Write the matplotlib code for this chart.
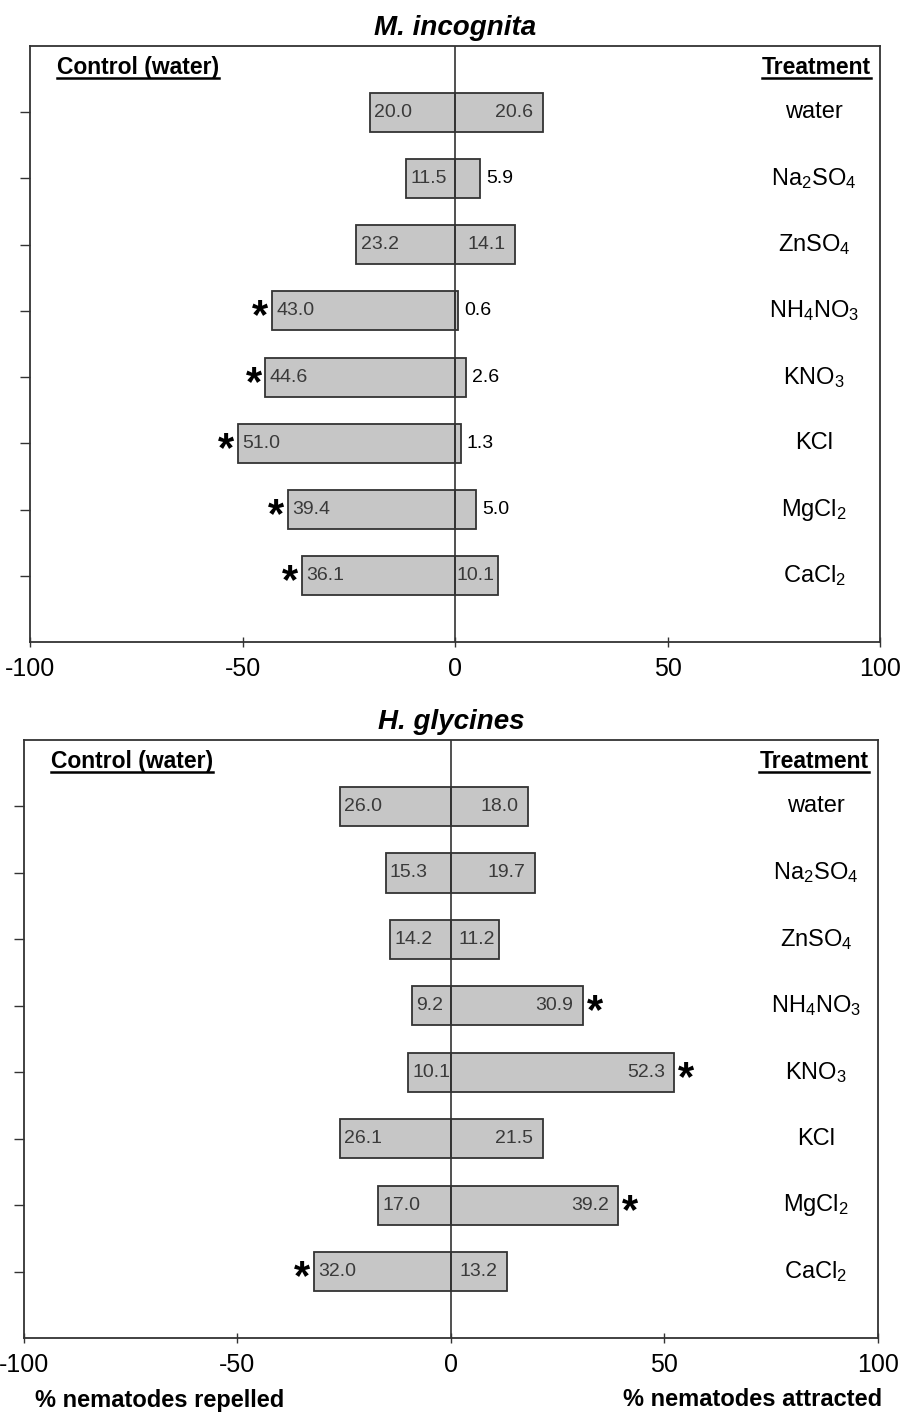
import matplotlib
matplotlib.use("Agg")
import matplotlib.pyplot as plt
from matplotlib.lines import Line2D

# ============= Data =============

treatments = ["water", "Na$_2$SO$_4$", "ZnSO$_4$", "NH$_4$NO$_3$",
              "KNO$_3$", "KCl", "MgCl$_2$", "CaCl$_2$"]

mi_control = [20.0, 11.5, 23.2, 43.0, 44.6, 51.0, 39.4, 36.1]
mi_treat = [20.6, 5.9, 14.1, 0.6, 2.6, 1.3, 5.0, 10.1]
mi_sig_control = [False, False, False, True, True, True, True, True]
mi_sig_treat = [False] * 8

hg_control = [26.0, 15.3, 14.2, 9.2, 10.1, 26.1, 17.0, 32.0]
hg_treat = [18.0, 19.7, 11.2, 30.9, 52.3, 21.5, 39.2, 13.2]
hg_sig_control = [False, False, False, False, False, False, False, True]
hg_sig_treat = [False, False, False, True, True, False, True, False]

x_ticks = [-100, -50, 0, 50, 100]

# ============= Style =============

plt.rcParams["font.family"] = ["Liberation Sans", "DejaVu Sans"]
plt.rcParams["mathtext.fontset"] = "custom"
plt.rcParams["mathtext.rm"] = "Liberation Sans"
plt.rcParams["mathtext.it"] = "Liberation Sans:italic"
plt.rcParams["mathtext.bf"] = "Liberation Sans:bold"

BAR_FACE = "#c6c6c6"
EDGE = "#333333"

fig = plt.figure(figsize=(9.01, 14.12), dpi=100)
ax_top = fig.add_axes([0.0333, 0.5453, 0.9434, 0.4221])
ax_bot = fig.add_axes([0.0266, 0.0524, 0.9478, 0.4235])

underlined = []


def draw_panel(ax, title, control, treat, sig_c, sig_t, lab_x):
    rows = list(range(1, len(treatments) + 1))
    neg = [-v for v in control]
    ax.barh(rows, neg, height=0.59, color=BAR_FACE, edgecolor=EDGE, linewidth=1.3, zorder=2)
    ax.barh(rows, treat, height=0.59, color=BAR_FACE, edgecolor=EDGE, linewidth=1.3, zorder=2)
    ax.axvline(0, color=EDGE, linewidth=1.2, zorder=3)

    for y, c, t, sc, st, name in zip(rows, control, treat, sig_c, sig_t, treatments):
        ax.text(-c + 1.0, y, f"{c:.1f}", ha="left", va="center",
                fontsize=14, color="#3a3a3a", zorder=4)
        if t >= 8:
            pad = 2.2 if t > 13 else 0.9
            ax.text(t - pad, y, f"{t:.1f}", ha="right", va="center",
                    fontsize=14, color="#3a3a3a", zorder=4)
        else:
            ax.text(t + 1.5, y, f"{t:.1f}", ha="left", va="center",
                    fontsize=14, color="black", zorder=4)
        if sc:
            ax.text(-c - 2.8, y + 0.1, "*", ha="center", va="center",
                    fontsize=30, fontweight="bold", color="black")
        if st:
            ax.text(t + 2.8, y + 0.1, "*", ha="center", va="center",
                    fontsize=30, fontweight="bold", color="black")
        ax.text(lab_x, y, name, ha="center", va="center", fontsize=17, color="black")

    t1 = ax.text(-93.6, 0.32, "Control (water)", ha="left", va="center",
                 fontsize=16.5, fontweight="bold")
    t2 = ax.text(97.8, 0.32, "Treatment", ha="right", va="center",
                 fontsize=16.5, fontweight="bold")
    underlined.extend([t1, t2])

    ax.set_xlim(-100, 100)
    ax.set_ylim(9, 0)
    ax.set_xticks(x_ticks)
    ax.set_xticklabels([str(v) for v in x_ticks])
    ax.set_yticks(rows)
    ax.set_yticklabels([])
    ax.tick_params(axis="y", direction="out", length=7, width=1, color=EDGE)
    ax.tick_params(axis="x", direction="inout", length=7, width=1, color=EDGE,
                   labelsize=18, pad=7)
    for s in ax.spines.values():
        s.set_color(EDGE)
        s.set_linewidth(1.3)
    ax.set_title(title, fontsize=20, fontweight="bold", fontstyle="italic", pad=8)


draw_panel(ax_top, "M. incognita", mi_control, mi_treat, mi_sig_control, mi_sig_treat, 84.5)
draw_panel(ax_bot, "H. glycines", hg_control, hg_treat, hg_sig_control, hg_sig_treat, 85.5)

fig.text(35 / 901, 1 - 1400 / 1412, "% nematodes repelled", ha="left", va="center",
         fontsize=17, fontweight="bold")
fig.text(882 / 901, 1 - 1400 / 1412, "% nematodes attracted", ha="right", va="center",
         fontsize=17, fontweight="bold")

# underline the column headers
fig.canvas.draw()
renderer = fig.canvas.get_renderer()
inv = fig.transFigure.inverted()
for t in underlined:
    bb = t.get_window_extent(renderer)
    (x0, y0), (x1, y1) = inv.transform([(bb.x0, bb.y0 + 1), (bb.x1, bb.y0 + 1)])
    fig.add_artist(Line2D([x0, x1], [y0, y1], transform=fig.transFigure,
                          color="black", linewidth=1.8))

fig.savefig("out.png", dpi=100)
